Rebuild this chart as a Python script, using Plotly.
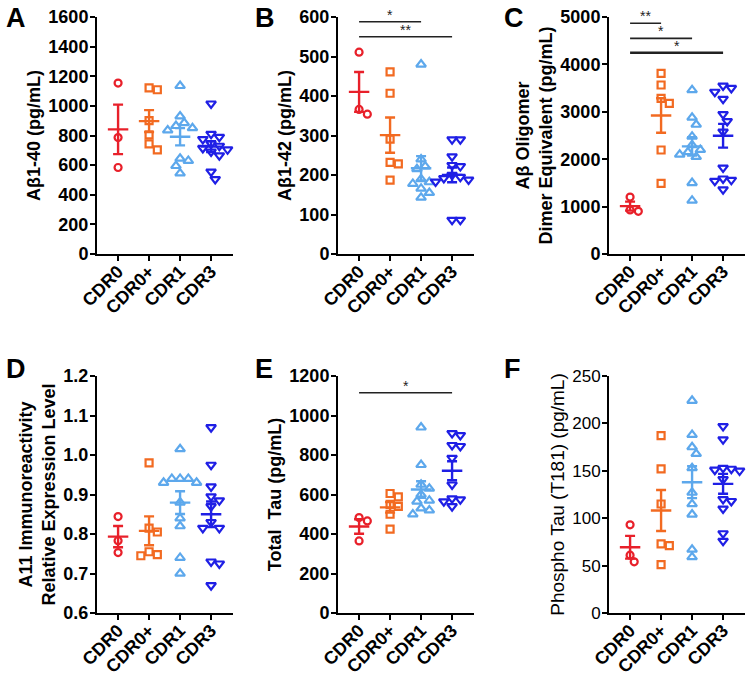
import numpy as np
import plotly.graph_objects as go

categories = ["CDR0", "CDR0+", "CDR1", "CDR3"]

# Panel A: Abeta1-40 (pg/mL)
a_cdr0 = [1154, 786, 584]
a_cdr0p = [1122, 1109, 901, 804, 744, 703]
a_cdr1 = [1135, 930, 885, 865, 850, 835, 645, 630, 595, 545]
a_cdr3 = [1015, 810, 790, 775, 745, 730, 715, 705, 690, 665, 555, 505]

# Panel B: Abeta1-42 (pg/mL)
b_cdr0 = [511, 366, 354]
b_cdr0p = [461, 407, 291, 232, 228, 187]
b_cdr1 = [480, 240, 222, 215, 190, 182, 178, 166, 155, 143]
b_cdr3 = [290, 290, 247, 225, 222, 200, 195, 192, 188, 183, 86, 86]
b_sig_from = [0, 0]
b_sig_to = [2, 3]
b_sig_y = [588, 550]
b_sig_text = ["*", "**"]

# Panel C: Abeta oligomer dimer equivalent (pg/mL)
c_cdr0 = [1200, 930, 900]
c_cdr0p = [3812, 3565, 3284, 3179, 2194, 1491]
c_cdr1 = [3460, 2880, 2730, 2480, 2300, 2200, 2150, 2100, 2050, 1500, 1130]
c_cdr3 = [3550, 3500, 3420, 3270, 2950, 2800, 2580, 1820, 1590, 1560, 1540, 1360]
c_sig_from = [0, 0, 0]
c_sig_to = [1, 2, 3]
c_sig_y = [4867, 4550, 4247]
c_sig_text = ["**", "*", "*"]

# Panel D: A11 immunoreactivity relative expression level
d_cdr0 = [0.844, 0.783, 0.753]
d_cdr0p = [0.98, 0.815, 0.805, 0.755, 0.745, 0.748]
d_cdr1 = [1.015, 0.94, 0.94, 0.94, 0.93, 0.93, 0.88, 0.84, 0.82, 0.74, 0.70]
d_cdr3 = [1.07, 0.975, 0.92, 0.895, 0.885, 0.87, 0.83, 0.815, 0.815, 0.73, 0.725, 0.67]

# Panel E: Total Tau (pg/mL)
e_cdr0 = [483, 466, 365]
e_cdr0p = [605, 588, 550, 540, 500, 425]
e_cdr1 = [940, 750, 650, 630, 600, 570, 565, 530, 520, 500]
e_cdr3 = [910, 900, 850, 845, 785, 650, 580, 575, 565, 540]
e_sig_from = [0]
e_sig_to = [3]
e_sig_y = [1115]
e_sig_text = ["*"]

# Panel F: Phospho Tau (T181) (pg/mL)
f_cdr0 = [93, 61, 54]
f_cdr0p = [187, 152, 115, 73, 71, 51]
f_cdr1 = [224, 188, 175, 168, 153, 127, 115, 104, 67, 59]
f_cdr3 = [197, 183, 153, 152, 151, 150, 141, 120, 118, 110, 84, 76]

colors = ["#E8202A", "#F26A21", "#5DA8EC", "#1F1FE5"]
symbols = ["circle-open", "square-open", "triangle-up-open", "triangle-down-open"]
msizes = [7, 7, 8.5, 8.5]

FONT = "Liberation Sans, Arial, sans-serif"

panels = [
    dict(letter="A", groups=[a_cdr0, a_cdr0p, a_cdr1, a_cdr3], ymax=1600, dtick=200,
         title="<b>A\u03b21-40 (pg/mL)</b>", fmt="", sig=None),
    dict(letter="B", groups=[b_cdr0, b_cdr0p, b_cdr1, b_cdr3], ymax=600, dtick=100,
         title="<b>A\u03b21-42 (pg/mL)</b>", fmt="",
         sig=(b_sig_from, b_sig_to, b_sig_y, b_sig_text)),
    dict(letter="C", groups=[c_cdr0, c_cdr0p, c_cdr1, c_cdr3], ymax=5000, dtick=1000,
         title="<b>A\u03b2 Oligomer<br>Dimer Equivalent (pg/mL)</b>", fmt="",
         sig=(c_sig_from, c_sig_to, c_sig_y, c_sig_text)),
    dict(letter="D", groups=[d_cdr0, d_cdr0p, d_cdr1, d_cdr3], ymin=0.6, ymax=1.2, dtick=0.1,
         title="<b>A11 Immunoreactivity<br>Relative Expression Level</b>", fmt=".1f", sig=None),
    dict(letter="E", groups=[e_cdr0, e_cdr0p, e_cdr1, e_cdr3], ymax=1200, dtick=200,
         title="<b>Total  Tau (pg/mL)</b>", fmt="",
         sig=(e_sig_from, e_sig_to, e_sig_y, e_sig_text)),
    dict(letter="F", groups=[f_cdr0, f_cdr0p, f_cdr1, f_cdr3], ymax=250, dtick=50,
         title="Phospho Tau (T181) (pg/mL)", fmt="", sig=None),
]

W, H = 750, 674
x_left_px = [97, 338, 609]
row_px = [(17, 254), (376, 613)]
XR = (-0.68, 3.7)
unit_px = 31.0
xw_px = (XR[1] - XR[0]) * unit_px


def swarm(vals, ypx_per_unit, xpx_per_unit, d=7.5):
    vals = np.asarray(vals, dtype=float)
    order = np.argsort(-vals)
    placed = []
    offs = np.zeros(len(vals))
    step = d * 0.55
    for i in order:
        yp = vals[i] * ypx_per_unit
        chosen = 0.0
        for k in range(0, 12):
            cands = [0.0] if k == 0 else [k * step, -k * step]
            ok = None
            for ox in cands:
                if all((ox - px) ** 2 + (yp - py) ** 2 >= d * d for px, py in placed):
                    ok = ox
                    break
            if ok is not None:
                chosen = ok
                break
        placed.append((chosen, yp))
        offs[i] = chosen / xpx_per_unit
    return offs


fig = go.Figure()
layout = dict(width=W, height=H, margin=dict(l=0, r=0, t=0, b=0),
              paper_bgcolor="white", plot_bgcolor="white", showlegend=False,
              font=dict(family=FONT, color="black"))
annotations = []

for p_i, p in enumerate(panels):
    row, col = divmod(p_i, 3)
    n = p_i + 1
    xa = "x" if n == 1 else f"x{n}"
    ya = "y" if n == 1 else f"y{n}"
    xkey = "xaxis" if n == 1 else f"xaxis{n}"
    ykey = "yaxis" if n == 1 else f"yaxis{n}"
    x0 = x_left_px[col]
    top_px, bot_px = row_px[row]
    ymin = p.get("ymin", 0)
    ymax = p["ymax"]
    ypx = (bot_px - top_px) / (ymax - ymin)
    bold = p["letter"] != "F"

    for g_i, vals in enumerate(p["groups"]):
        offs = swarm(np.array(vals) - ymin, ypx, unit_px)
        fig.add_trace(go.Scatter(
            x=g_i + offs, y=vals, mode="markers", xaxis=xa, yaxis=ya,
            marker=dict(symbol=symbols[g_i], size=msizes[g_i], color=colors[g_i],
                        line=dict(width=2.2, color=colors[g_i])),
            cliponaxis=False, hoverinfo="y"))
    for g_i, vals in enumerate(p["groups"]):
        v = np.asarray(vals, dtype=float)
        m = v.mean()
        sem = v.std(ddof=1) / np.sqrt(len(v))
        fig.add_trace(go.Scatter(
            x=[g_i - 0.33, g_i + 0.33], y=[m, m], mode="lines", xaxis=xa, yaxis=ya,
            line=dict(color=colors[g_i], width=2.4), hoverinfo="skip", cliponaxis=False))
        fig.add_trace(go.Scatter(
            x=[g_i], y=[m], mode="markers", xaxis=xa, yaxis=ya,
            marker=dict(size=1, opacity=0),
            error_y=dict(type="data", array=[sem], color=colors[g_i], thickness=2.4, width=5),
            hoverinfo="skip", cliponaxis=False))

    if p["sig"] is not None:
        s_from, s_to, s_y, s_txt = p["sig"]
        for j in range(len(s_from)):
            lw = 2.6 if (p["letter"] == "C" and j == 2) else 1.6
            fig.add_trace(go.Scatter(
                x=[s_from[j], s_to[j]], y=[s_y[j], s_y[j]], mode="lines",
                xaxis=xa, yaxis=ya, line=dict(color="#222222", width=lw),
                hoverinfo="skip", cliponaxis=False))
            annotations.append(dict(
                x=(s_from[j] + s_to[j]) / 2, y=s_y[j], xref=xa, yref=ya,
                text=s_txt[j], showarrow=False, yanchor="middle", yshift=7,
                font=dict(size=14, family=FONT, color="#222222")))

    layout[xkey] = dict(
        domain=[x0 / W, (x0 + xw_px) / W], range=list(XR), anchor=ya,
        tickmode="array", tickvals=list(range(4)),
        ticktext=[f"<b>{c}</b>" for c in categories], tickangle=-45,
        tickfont=dict(size=18, family=FONT, color="black"),
        ticklabelstandoff=-7,
        showline=True, linecolor="black", linewidth=2, ticks="outside",
        ticklen=5, tickwidth=2, tickcolor="black", showgrid=False, zeroline=False,
        automargin=False, fixedrange=True)
    layout[ykey] = dict(
        domain=[1 - bot_px / H, 1 - top_px / H], range=[ymin, ymax], anchor=xa,
        dtick=p["dtick"], tick0=ymin, tickformat=p["fmt"],
        tickfont=dict(size=18 if bold else 17, family=FONT, color="black",
                      weight="bold" if bold else "normal"),
        ticklabelstandoff=-2,
        title=dict(text=p["title"],
                   font=dict(size=18 if bold else 19, family=FONT, color="black"),
                   standoff=3),
        showline=True, linecolor="black", linewidth=2, ticks="outside",
        ticklen=5, tickwidth=2, tickcolor="black", showgrid=False, zeroline=False,
        automargin=False, fixedrange=True)

    letter_x = [4, 253, 502][col]
    letter_y = [18, 369][row]
    annotations.append(dict(
        x=letter_x / W, y=1 - letter_y / H, xref="paper", yref="paper",
        xanchor="left", yanchor="middle", text=f"<b>{p['letter']}</b>", showarrow=False,
        font=dict(size=27, family=FONT, color="black")))

layout["annotations"] = annotations
fig.update_layout(**layout)
fig.write_html(
    "out.html",
    config={"displayModeBar": False},
    post_script="document.body.style.margin='0';document.body.style.overflow='hidden';",
)
